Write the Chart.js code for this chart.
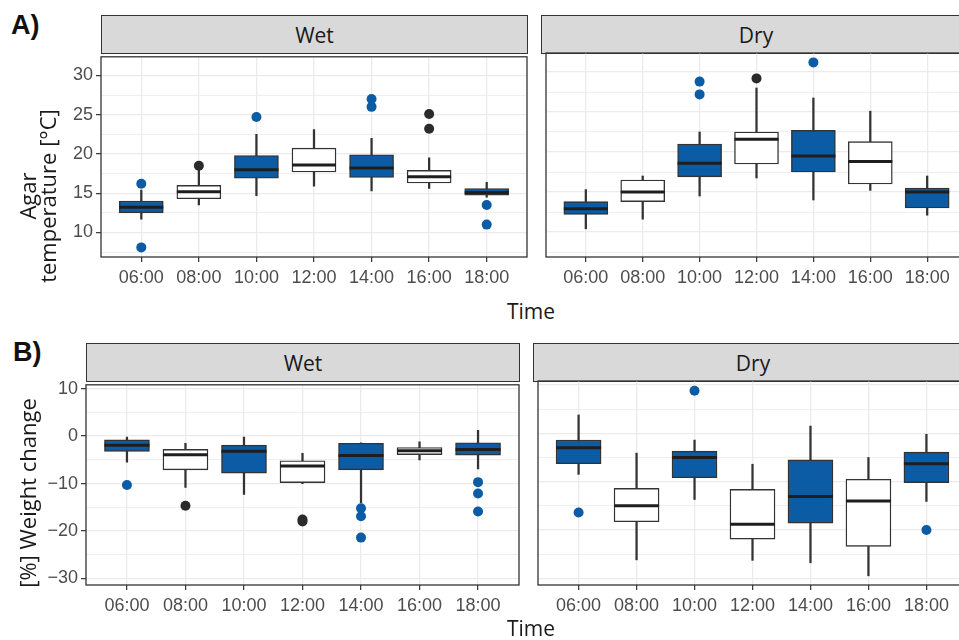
<!DOCTYPE html>
<html>
<head>
<meta charset="utf-8">
<script src="https://cdn.jsdelivr.net/npm/chart.js@4.4.1/dist/chart.umd.min.js"></script>
<style>
  html, body { margin: 0; padding: 0; background: #fff; width: 959px; height: 640px; overflow: hidden; }
  canvas { position: absolute; }
  .strip { position: absolute; box-sizing: border-box; background: #d9d9d9; border: 1.3px solid #333;
           font-family: "Open Sans", sans-serif; font-size: 21px; color: #1a1a1a;
           display: flex; align-items: center; justify-content: center; }
  .tag { position: absolute; font-family: "Liberation Sans", Arial, sans-serif; font-weight: bold; font-size: 27px; color: #111; line-height: 1; }
  .xtitle { position: absolute; font-family: "Open Sans", sans-serif; font-size: 21px; color: #1a1a1a; transform: translate(-50%, -50%); white-space: nowrap; }
  .ytitle { position: absolute; font-family: "Open Sans", sans-serif; font-size: 22px; color: #1a1a1a; line-height: 20px;
            text-align: center; white-space: nowrap; transform: translate(-50%, -50%) rotate(-90deg); }
</style>
</head>
<body>
<div class="tag" style="left:11px; top:12px;">A)</div>
<div class="tag" style="left:13px; top:339px;">B)</div>

<div class="strip" style="left:101px; top:15px; width:427px; height:39px;">Wet</div>
<div class="strip" style="left:541px; top:15px; width:430px; height:39px;">Dry</div>
<div class="strip" style="left:86px; top:343px; width:434px; height:39px;">Wet</div>
<div class="strip" style="left:533px; top:343px; width:440px; height:39px;">Dry</div>

<canvas id="aWet"></canvas>
<canvas id="aDry"></canvas>
<canvas id="bWet"></canvas>
<canvas id="bDry"></canvas>

<div class="ytitle" style="left:37px; top:196px;">Agar<br>temperature [°C]</div>
<div class="ytitle" style="left:27px; top:493px;">[%] Weight change</div>
<div class="xtitle" style="left:531px; top:311px;">Time</div>
<div class="xtitle" style="left:531px; top:628px;">Time</div>

<script>
// ---------------- DATA ----------------
const categories = ['06:00', '08:00', '10:00', '12:00', '14:00', '16:00', '18:00'];
const boxFilled = [true, false, true, false, true, false, true];

// A) Agar temperature [°C] — Wet
const aWetLow  = [11.7, 13.5, 14.7, 15.9, 15.3, 15.6, 14.5];
const aWetQ1   = [12.5, 14.3, 16.9, 17.7, 17.0, 16.3, 14.75];
const aWetMed  = [13.2, 15.2, 18.0, 18.6, 18.2, 17.1, 15.1];
const aWetQ3   = [14.0, 16.0, 19.8, 20.75, 19.9, 17.9, 15.6];
const aWetHigh = [15.4, 18.0, 22.5, 23.1, 22.0, 19.5, 16.4];
const aWetOutCat = [0, 0, 1, 2, 4, 4, 5, 5, 6, 6];
const aWetOutVal = [16.2, 8.1, 18.5, 24.7, 27.0, 26.0, 25.1, 23.2, 13.5, 11.0];

// A) Agar temperature [°C] — Dry
const aDryLow  = [10.4, 11.6, 14.5, 16.75, 14.0, 15.2, 12.1];
const aDryQ1   = [12.2, 13.8, 16.9, 18.5, 17.5, 16.0, 13.0];
const aDryMed  = [12.9, 15.0, 18.6, 21.6, 19.5, 18.8, 15.0];
const aDryQ3   = [13.8, 16.5, 21.0, 22.5, 22.7, 21.3, 15.5];
const aDryHigh = [15.3, 17.0, 22.5, 28.0, 26.75, 25.1, 17.0];
const aDryOutCat = [2, 2, 3, 4];
const aDryOutVal = [28.8, 27.2, 29.2, 31.2];

// B) [%] Weight change — Wet
const bWetLow  = [-5.5, -10.8, -12.3, -10.0, -14.1, -5.0, -6.9];
const bWetQ1   = [-3.2, -7.1, -7.8, -9.8, -7.1, -3.9, -4.0];
const bWetMed  = [-1.9, -3.9, -3.2, -6.3, -4.1, -3.1, -2.8];
const bWetQ3   = [-0.8, -2.8, -1.9, -5.2, -1.5, -2.4, -1.4];
const bWetHigh = [-0.2, -1.5, -0.2, -3.6, -1.4, -1.2, 1.2];
const bWetOutCat = [0, 1, 3, 3, 4, 4, 4, 6, 6, 6];
const bWetOutVal = [-10.3, -14.7, -17.6, -18.0, -15.2, -16.9, -21.4, -9.7, -12.1, -15.9];

// B) [%] Weight change — Dry
const bDryLow  = [-8.5, -26.2, -13.7, -26.3, -26.8, -29.5, -14.1];
const bDryQ1   = [-6.3, -18.3, -9.2, -21.9, -18.6, -23.4, -10.2];
const bDryMed  = [-3.0, -15.0, -5.0, -18.8, -13.1, -14.0, -6.3];
const bDryQ3   = [-1.4, -11.4, -3.7, -11.6, -5.5, -9.5, -3.9];
const bDryHigh = [3.8, -4.1, -1.4, -6.4, 1.5, -5.0, -0.2];
const bDryOutCat = [0, 2, 6];
const bDryOutVal = [-16.4, 8.8, -20.0];

// ---------------- STYLE ----------------
const BLUE = '#0b5ca4';
const DARK = '#2b2b2b';
const GRID = '#ebebeb';
Chart.defaults.font.family = '"Liberation Sans", Arial, sans-serif';
Chart.defaults.animation = false;

function medianPlugin(med) {
  return {
    id: 'medianLines',
    afterDatasetsDraw(chart) {
      const meta = chart.getDatasetMeta(0);
      const ys = chart.scales.y;
      const ctx = chart.ctx;
      ctx.save();
      ctx.strokeStyle = '#1e1e1e';
      ctx.lineWidth = 3;
      meta.data.forEach((bar, i) => {
        const y = ys.getPixelForValue(med[i]);
        ctx.beginPath();
        ctx.moveTo(bar.x - bar.width / 2, y);
        ctx.lineTo(bar.x + bar.width / 2, y);
        ctx.stroke();
      });
      ctx.restore();
    }
  };
}

const borderPlugin = {
  id: 'panelBorder',
  afterDraw(chart) {
    const a = chart.chartArea;
    const ctx = chart.ctx;
    ctx.save();
    ctx.strokeStyle = '#333';
    ctx.lineWidth = 1.3;
    ctx.strokeRect(a.left, a.top, a.right - a.left, a.bottom - a.top);
    ctx.restore();
  }
};

function makePanel(id, p) {
  const TOPPAD = 10, RIGHTPAD = 4, XH = 32;
  const yW = p.showY ? 60 : 0;
  const cv = document.getElementById(id);
  const w = yW + p.plotW + RIGHTPAD;
  const h = TOPPAD + p.plotH + XH;
  cv.width = w; cv.height = h;
  cv.style.width = w + 'px'; cv.style.height = h + 'px';
  cv.style.left = (p.plotLeft - yW) + 'px';
  cv.style.top = (p.plotTop - TOPPAD) + 'px';

  const fills = boxFilled.map(f => f ? BLUE : '#ffffff');
  const outColors = p.outCat.map(c => boxFilled[c] ? BLUE : DARK);

  new Chart(cv, {
    type: 'bar',
    data: {
      datasets: [
        {
          type: 'bar',
          data: categories.map((c, i) => ({ x: i, y: [p.q1[i], p.q3[i]] })),
          backgroundColor: fills,
          borderColor: '#333',
          borderWidth: 1.4,
          borderSkipped: false,
          grouped: false,
          barThickness: p.barW,
          order: 1
        },
        {
          type: 'bar',
          data: categories.map((c, i) => ({ x: i, y: [p.low[i], p.high[i]] })),
          backgroundColor: '#333',
          borderWidth: 0,
          grouped: false,
          barThickness: 1.6,
          order: 2
        },
        {
          type: 'line',
          data: p.outCat.map((c, k) => ({ x: c, y: p.outVal[k] })),
          showLine: false,
          pointRadius: 5,
          pointBorderWidth: 0,
          pointBackgroundColor: outColors,
          pointBorderColor: outColors,
          order: 0
        }
      ]
    },
    options: {
      responsive: false,
      animation: false,
      events: [],
      layout: { padding: { top: TOPPAD, right: RIGHTPAD, left: 0, bottom: 0 } },
      plugins: { legend: { display: false }, tooltip: { enabled: false } },
      scales: {
        x: {
          type: 'linear',
          min: -0.7, max: 6.7,
          offset: false,
          border: { display: false },
          grid: { offset: false, color: GRID, lineWidth: 1.3, tickLength: 5, tickColor: '#333', tickWidth: 1.2 },
          ticks: {
            stepSize: 1, includeBounds: false, autoSkip: false, maxRotation: 0,
            padding: 5, color: '#4d4d4d', font: { size: 18 },
            callback: v => categories[v] !== undefined ? categories[v] : ''
          },
          afterFit: s => { s.height = XH; }
        },
        y: {
          type: 'linear',
          min: p.yMin, max: p.yMax,
          beginAtZero: false,
          border: { display: false },
          grid: {
            color: GRID,
            lineWidth: c => (c.tick && Math.abs(c.tick.value % p.major) < 1e-6) ? 1.3 : 0.8,
            drawTicks: p.showY,
            tickLength: 5,
            tickWidth: 1.2,
            tickColor: c => (c.tick && Math.abs(c.tick.value % p.major) < 1e-6) ? '#333' : 'rgba(0,0,0,0)'
          },
          ticks: {
            display: p.showY,
            stepSize: p.step, includeBounds: false, autoSkip: false,
            padding: 3, color: '#4d4d4d', font: { size: 18 },
            callback: v => Math.abs(v % p.major) < 1e-6 ? String(v).replace('-', '\u2212') : ''
          },
          afterFit: s => { s.width = yW; }
        }
      }
    },
    plugins: [medianPlugin(p.med), borderPlugin]
  });
}

makePanel('aWet', { showY: true, plotLeft: 101, plotTop: 53, plotW: 427, plotH: 204, barW: 44,
  yMin: 6.875, yMax: 32.375, step: 2.5, major: 5,
  low: aWetLow, q1: aWetQ1, med: aWetMed, q3: aWetQ3, high: aWetHigh, outCat: aWetOutCat, outVal: aWetOutVal });
makePanel('aDry', { showY: false, plotLeft: 541, plotTop: 53, plotW: 427, plotH: 204, barW: 44,
  yMin: 6.875, yMax: 32.375, step: 2.5, major: 5,
  low: aDryLow, q1: aDryQ1, med: aDryMed, q3: aDryQ3, high: aDryHigh, outCat: aDryOutCat, outVal: aDryOutVal });
makePanel('bWet', { showY: true, plotLeft: 86, plotTop: 381, plotW: 434, plotH: 204, barW: 45,
  yMin: -31.4, yMax: 10.83, step: 5, major: 10,
  low: bWetLow, q1: bWetQ1, med: bWetMed, q3: bWetQ3, high: bWetHigh, outCat: bWetOutCat, outVal: bWetOutVal });
makePanel('bDry', { showY: false, plotLeft: 533, plotTop: 381, plotW: 435, plotH: 204, barW: 45,
  yMin: -31.4, yMax: 10.83, step: 5, major: 10,
  low: bDryLow, q1: bDryQ1, med: bDryMed, q3: bDryQ3, high: bDryHigh, outCat: bDryOutCat, outVal: bDryOutVal });
</script>
</body>
</html>
